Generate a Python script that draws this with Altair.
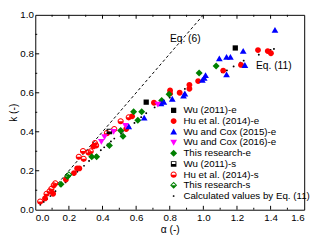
import altair as alt
import pandas as pd

# ---------------- data ----------------
series_names = [
    "Wu (2011)-e",
    "Hu et al. (2014)-e",
    "Wu and Cox  (2015)-e",
    "Wu and Cox  (2016)-e",
    "This research-e",
    "Wu (2011)-s",
    "Hu et al. (2014)-s",
    "This research-s",
    "Calculated values by Eq. (11)",
]

wu11e_a = [0.66, 1.19]
wu11e_k = [0.552, 0.830]

hu14e_a = [0.058, 0.106, 0.182, 0.230, 0.249, 0.262, 0.345, 0.541, 0.576, 0.706,
           0.802, 0.802, 0.859, 0.917, 0.917, 0.969, 1.118, 1.224, 1.325, 1.383, 1.402]
hu14e_k = [0.058, 0.082, 0.155, 0.188, 0.212, 0.212, 0.325, 0.414, 0.479, 0.549,
           0.612, 0.596, 0.600, 0.641, 0.621, 0.660, 0.714, 0.743, 0.819, 0.814, 0.803]

wc15e_a = [0.556, 0.648, 0.748, 0.765, 0.815, 0.882, 0.890, 0.994, 1.005, 1.013,
           1.095, 1.138, 1.161, 1.138, 1.237, 1.247, 1.426]
wc15e_k = [0.427, 0.471, 0.544, 0.552, 0.568, 0.584, 0.595, 0.665, 0.675, 0.689,
           0.775, 0.783, 0.783, 0.693, 0.814, 0.741, 0.921]

wc16e_a = [0.393, 0.412, 0.466, 0.537, 0.729]
wc16e_k = [0.350, 0.374, 0.401, 0.431, 0.541]

thise_a = [0.153, 0.336, 0.365, 0.441, 0.522, 0.508, 0.585, 0.633, 0.610, 0.752,
           0.796, 0.975, 1.076]
thise_k = [0.131, 0.272, 0.272, 0.330, 0.377, 0.406, 0.503, 0.503, 0.459, 0.560,
           0.592, 0.702, 0.738]

wu11s_a = [0.441]
wu11s_k = [0.401]

hu14s_a = [0.029, 0.067, 0.085, 0.096, 0.110, 0.119, 0.259, 0.288, 0.284, 0.317,
           0.330, 0.355, 0.362, 0.426, 0.470, 0.508, 0.556]
hu14s_k = [0.042, 0.082, 0.095, 0.107, 0.125, 0.136, 0.272, 0.261, 0.301, 0.293,
           0.300, 0.342, 0.330, 0.393, 0.414, 0.454, 0.474]

thiss_a = [0.192, 0.200]
thiss_k = [0.171, 0.180]

calc_a = [0.03, 0.05, 0.07, 0.09, 0.11, 0.12, 0.15, 0.18, 0.19, 0.23, 0.25, 0.26,
          0.29, 0.32, 0.34, 0.36, 0.39, 0.41, 0.43, 0.45, 0.47, 0.51, 0.52, 0.56,
          0.59, 0.61, 0.63, 0.66, 0.71, 0.75, 0.80, 0.86, 0.89, 0.92, 0.97, 1.11,
          1.14, 1.18, 1.22, 1.24, 1.33, 1.38, 1.40, 1.42]
calc_k = [0.025, 0.040, 0.055, 0.070, 0.085, 0.095, 0.120, 0.140, 0.150, 0.180,
          0.195, 0.205, 0.225, 0.250, 0.265, 0.280, 0.305, 0.320, 0.335, 0.350,
          0.365, 0.390, 0.400, 0.425, 0.445, 0.460, 0.475, 0.495, 0.525, 0.545,
          0.575, 0.605, 0.620, 0.635, 0.660, 0.705, 0.715, 0.735, 0.755, 0.765,
          0.795, 0.810, 0.820, 0.825]

eq6_a = [0.03, 1.0]
eq6_k = [0.03, 1.0]

label_text = ["Eq. (6)", "Eq. (11)"]
label_a = [0.892, 1.419]
label_k = [0.874, 0.738]

x_major = [0.2, 0.4, 0.6, 0.8, 1.0, 1.2, 1.4]
x_minor = [0.1, 0.3, 0.5, 0.7, 0.9, 1.1, 1.3, 1.5]
y_major = [0.2, 0.4, 0.6, 0.8]
y_minor = [0.1, 0.3, 0.5, 0.7, 0.9]
x_ticks_lab = [0.0, 0.2, 0.4, 0.6, 0.8, 1.0, 1.2, 1.4, 1.6]
y_ticks_lab = [0.0, 0.2, 0.4, 0.6, 0.8, 1.0]

# ---------------- build tables ----------------
all_a = [wu11e_a, hu14e_a, wc15e_a, wc16e_a, thise_a, wu11s_a, hu14s_a, thiss_a, calc_a]
all_k = [wu11e_k, hu14e_k, wc15e_k, wc16e_k, thise_k, wu11s_k, hu14s_k, thiss_k, calc_k]
rows = []
for name, aa, kk in zip(series_names, all_a, all_k):
    for a, k in zip(aa, kk):
        rows.append({"alpha": a, "k": k, "series": name})
df = pd.DataFrame(rows)


def circ(r):
    return (f"M0,-{r}A{r},{r},0,0,1,{r},0A{r},{r},0,0,1,0,{r}"
            f"A{r},{r},0,0,1,-{r},0A{r},{r},0,0,1,0,-{r}Z")


def circ_ccw_top(r):
    return f"M{r},0A{r},{r},0,0,0,0,-{r}A{r},{r},0,0,0,-{r},0Z"


sq = "M-0.9,-0.9L0.9,-0.9L0.9,0.9L-0.9,0.9Z"
half_square = "M-0.95,-0.95L0.95,-0.95L0.95,0.95L-0.95,0.95ZM-0.62,-0.62L-0.62,0L0.62,0L0.62,-0.62Z"
half_circle = circ(1.05) + circ_ccw_top(0.7)
tri_up = "M0,-1.1L1.15,0.9L-1.15,0.9Z"
tri_down = "M0,1.1L1.15,-0.9L-1.15,-0.9Z"
diamond = "M0,-1.2L1.2,0L0,1.2L-1.2,0Z"
half_diamond = "M0,-1.2L1.2,0L0,1.2L-1.2,0ZM0,-0.75L-0.75,0L0.75,0Z"
dot = circ(0.32)

colors = ["#000000", "#ff0000", "#0000ff", "#ff00ff", "#008000",
          "#000000", "#ff0000", "#008000", "#000000"]
shapes = [sq, circ(1.0), tri_up, tri_down, diamond,
          half_square, half_circle, half_diamond, dot]

W, H = 276, 200
xscale = alt.Scale(domain=[0, 1.6], nice=False)
yscale = alt.Scale(domain=[0, 1.0], nice=False)
xaxis = alt.Axis(title="α (-)", values=x_ticks_lab, format=".1f", labelOverlap=False)
yaxis = alt.Axis(title="k (-)", values=y_ticks_lab, format=".1f", labelOverlap=False)

points = alt.Chart(df).mark_point(filled=True, opacity=1, size=36).encode(
    x=alt.X("alpha:Q", scale=xscale, axis=xaxis),
    y=alt.Y("k:Q", scale=yscale, axis=yaxis),
    color=alt.Color("series:N", scale=alt.Scale(domain=series_names, range=colors),
                    legend=alt.Legend(title=None)),
    shape=alt.Shape("series:N", scale=alt.Scale(domain=series_names, range=shapes),
                    legend=alt.Legend(title=None)),
    order=alt.Order("series:N"),
)

eq6 = alt.Chart(pd.DataFrame({"alpha": eq6_a, "k": eq6_k})).mark_line(
    color="black", strokeDash=[3, 2.5], strokeWidth=1
).encode(x=alt.X("alpha:Q", axis=xaxis), y=alt.Y("k:Q", axis=yaxis))

labels = alt.Chart(pd.DataFrame({"alpha": label_a, "k": label_k, "t": label_text})).mark_text(
    font="Liberation Sans", fontSize=10.5, color="black", align="center", baseline="middle"
).encode(x=alt.X("alpha:Q", axis=xaxis), y=alt.Y("k:Q", axis=yaxis), text="t:N")


def xt(vals, y1, y2):
    return alt.Chart(pd.DataFrame({"alpha": vals})).mark_rule(color="black", strokeWidth=1).encode(
        x=alt.X("alpha:Q", axis=xaxis), y=alt.value(y1), y2=alt.value(y2))


def yt(vals, x1, x2):
    return alt.Chart(pd.DataFrame({"k": vals})).mark_rule(color="black", strokeWidth=1).encode(
        y=alt.Y("k:Q", axis=yaxis), x=alt.value(x1), x2=alt.value(x2))


ticks = [
    xt(x_major, H, H - 4), xt(x_minor, H, H - 2),
    xt(x_major, 0, 4), xt(x_minor, 0, 2),
    yt(y_major, 0, 4), yt(y_minor, 0, 2),
]

chart = alt.layer(eq6, points, labels, *ticks).properties(
    width=W, height=H,
    autosize=alt.AutoSizeParams(type="none"),
    padding={"left": 28, "top": 4, "right": 8, "bottom": 26},
).configure_view(
    stroke="black", strokeWidth=1
).configure_axis(
    grid=False, ticks=False, domain=False, labelOverlap=False,
    labelFont="Liberation Sans", labelFontSize=10, labelColor="black",
    titleFont="Liberation Sans", titleFontSize=10.5, titleFontWeight="normal",
    titleColor="black", labelPadding=3, titlePadding=2,
).configure_axisY(titlePadding=1, labelPadding=2).configure_legend(
    orient="none", legendX=137, legendY=93,
    labelFont="Liberation Sans", labelFontSize=10, labelColor="black",
    rowPadding=1, labelOffset=5, symbolStrokeWidth=0, padding=0, symbolSize=36,
)

chart.save("out.html", embed_options={"renderer": "svg", "actions": False})
